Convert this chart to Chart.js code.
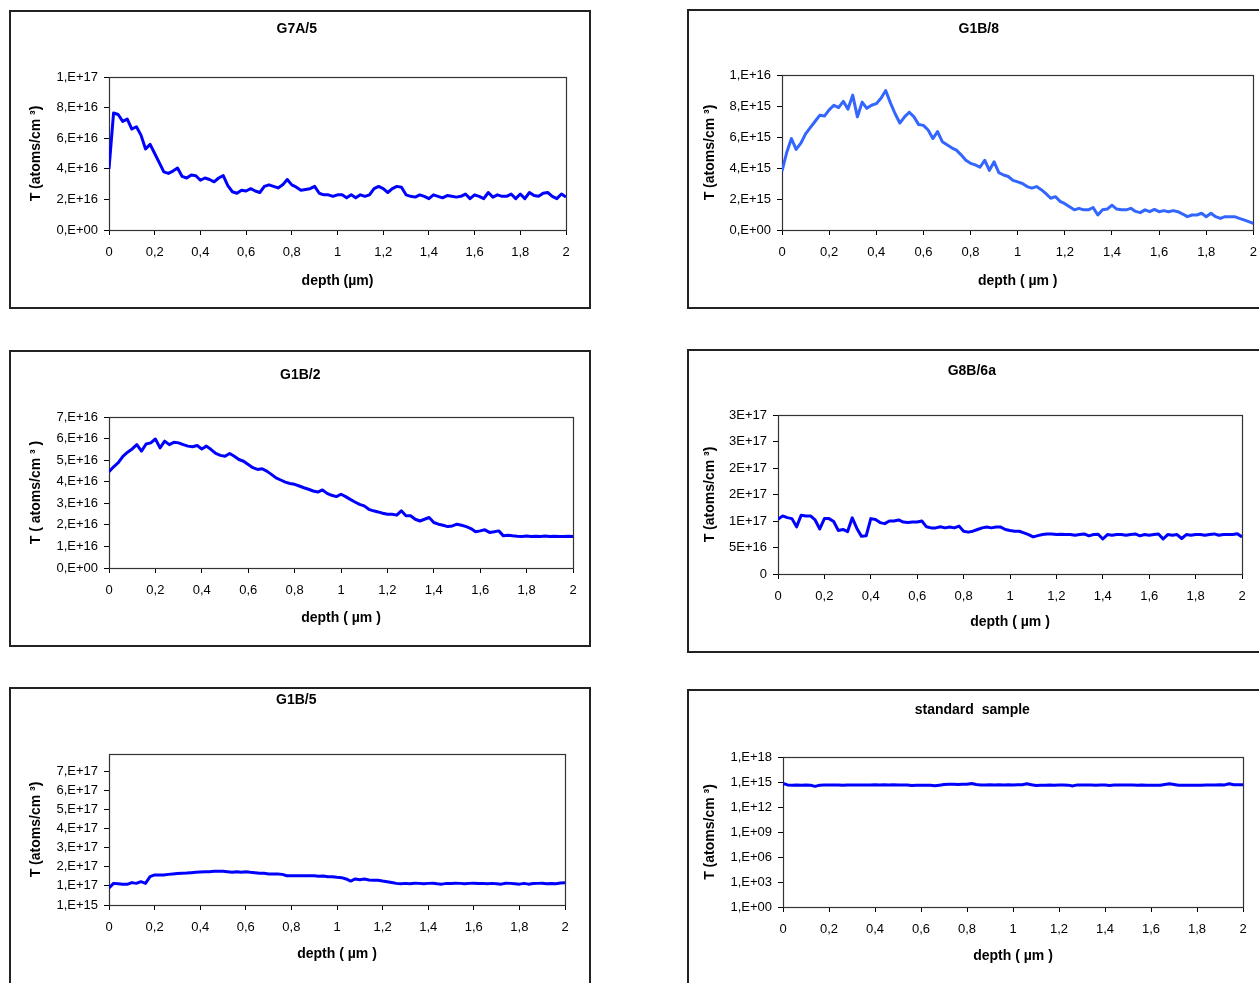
<!DOCTYPE html>
<html><head><meta charset="utf-8">
<script src="https://cdn.jsdelivr.net/npm/chart.js@4.4.1/dist/chart.umd.min.js"></script>
<style>
html,body{margin:0;padding:0;background:#fff;overflow:hidden;width:1259px;height:983px;position:relative;}
.box{position:absolute;border:2px solid #222;box-sizing:border-box;background:#fff;}
.box canvas{position:absolute;left:0;top:0;}
</style></head><body>
<div id="b1" class="box"><canvas></canvas></div>
<div id="b2" class="box"><canvas></canvas></div>
<div id="b3" class="box"><canvas></canvas></div>
<div id="b4" class="box"><canvas></canvas></div>
<div id="b5" class="box"><canvas></canvas></div>
<div id="b6" class="box"><canvas></canvas></div>
<script>
// ---------- data ----------
const DEPTH = [0,0.02,0.04,0.06,0.08,0.10,0.12,0.14,0.16,0.18,
  0.20,0.22,0.24,0.26,0.28,0.30,0.32,0.34,0.36,0.38,
  0.40,0.42,0.44,0.46,0.48,0.50,0.52,0.54,0.56,0.58,
  0.60,0.62,0.64,0.66,0.68,0.70,0.72,0.74,0.76,0.78,
  0.80,0.82,0.84,0.86,0.88,0.90,0.92,0.94,0.96,0.98,
  1.00,1.02,1.04,1.06,1.08,1.10,1.12,1.14,1.16,1.18,
  1.20,1.22,1.24,1.26,1.28,1.30,1.32,1.34,1.36,1.38,
  1.40,1.42,1.44,1.46,1.48,1.50,1.52,1.54,1.56,1.58,
  1.60,1.62,1.64,1.66,1.68,1.70,1.72,1.74,1.76,1.78,
  1.80,1.82,1.84,1.86,1.88,1.90,1.92,1.94,1.96,1.98,
  2.00];
const X_TICKS = [0,0.2,0.4,0.6,0.8,1,1.2,1.4,1.6,1.8,2];
const X_TICK_LABELS = ["0","0,2","0,4","0,6","0,8","1","1,2","1,4","1,6","1,8","2"];

// G7A/5 (units of 1E16 atoms/cm3)
const G7A5_UNIT = 1e16;
const G7A5 = [4.0,7.65,7.55,7.1,7.25,6.6,6.75,6.2,5.3,5.6,
  5.0,4.4,3.8,3.7,3.85,4.05,3.5,3.4,3.6,3.55,
  3.25,3.4,3.3,3.15,3.4,3.55,2.9,2.5,2.4,2.6,
  2.55,2.7,2.55,2.45,2.85,2.95,2.85,2.75,2.95,3.3,
  2.95,2.8,2.6,2.65,2.7,2.85,2.4,2.3,2.3,2.2,
  2.3,2.3,2.1,2.3,2.1,2.3,2.2,2.3,2.7,2.85,
  2.7,2.45,2.7,2.85,2.8,2.3,2.2,2.15,2.3,2.2,
  2.05,2.3,2.2,2.1,2.25,2.2,2.15,2.2,2.35,2.05,
  2.3,2.2,2.05,2.45,2.15,2.3,2.2,2.2,2.35,2.05,
  2.35,2.05,2.45,2.25,2.2,2.4,2.45,2.2,2.05,2.35,
  2.15];
const G7A5_TICKS = [0,2e16,4e16,6e16,8e16,1e17];
const G7A5_TICK_LABELS = ["0,E+00","2,E+16","4,E+16","6,E+16","8,E+16","1,E+17"];

// G1B/8 (units of 1E15)
const G1B8_UNIT = 1e15;
const G1B8 = [3.8,5.0,5.9,5.2,5.6,6.2,6.6,7.0,7.4,7.35,
  7.75,8.05,7.9,8.3,7.8,8.7,7.3,8.25,7.85,8.05,
  8.15,8.5,9.0,8.2,7.5,6.9,7.3,7.6,7.3,6.8,
  6.75,6.45,5.9,6.35,5.7,5.5,5.3,5.15,4.85,4.5,
  4.3,4.2,4.05,4.5,3.85,4.4,3.7,3.55,3.45,3.2,
  3.1,3.0,2.8,2.7,2.8,2.6,2.35,2.05,2.15,1.85,
  1.7,1.5,1.3,1.4,1.3,1.3,1.45,0.97,1.3,1.35,
  1.6,1.35,1.3,1.3,1.4,1.2,1.12,1.3,1.18,1.33,
  1.18,1.25,1.18,1.25,1.18,1.03,0.86,0.97,0.97,1.08,
  0.86,1.08,0.86,0.75,0.86,0.86,0.86,0.75,0.65,0.54,
  0.43];
const G1B8_TICKS = [0,2e15,4e15,6e15,8e15,1e16];
const G1B8_TICK_LABELS = ["0,E+00","2,E+15","4,E+15","6,E+15","8,E+15","1,E+16"];

// G1B/2 (units of 1E16)
const G1B2_UNIT = 1e16;
const G1B2 = [4.46,4.69,4.88,5.18,5.37,5.52,5.72,5.42,5.75,5.8,
  5.98,5.57,5.88,5.72,5.83,5.8,5.72,5.65,5.62,5.68,
  5.52,5.65,5.49,5.31,5.22,5.18,5.31,5.18,5.03,4.95,
  4.8,4.65,4.57,4.6,4.49,4.34,4.18,4.08,3.98,3.92,
  3.88,3.8,3.72,3.65,3.57,3.52,3.62,3.46,3.37,3.31,
  3.42,3.31,3.18,3.06,2.95,2.88,2.72,2.65,2.6,2.54,
  2.49,2.49,2.45,2.65,2.42,2.42,2.26,2.18,2.26,2.34,
  2.11,2.03,1.98,1.92,1.95,2.03,1.98,1.92,1.83,1.68,
  1.72,1.77,1.65,1.68,1.72,1.49,1.52,1.49,1.47,1.46,
  1.48,1.46,1.47,1.46,1.48,1.46,1.47,1.46,1.46,1.47,
  1.46];
const G1B2_TICKS = [0,1e16,2e16,3e16,4e16,5e16,6e16,7e16];
const G1B2_TICK_LABELS = ["0,E+00","1,E+16","2,E+16","3,E+16","4,E+16","5,E+16","6,E+16","7,E+16"];

// G8B/6a (units of 1E16)
const G8B6A_UNIT = 1e16;
const G8B6A = [10.3,10.96,10.64,10.45,8.9,11.1,10.96,10.96,10.2,8.5,
  10.45,10.45,9.9,8.2,8.4,8.0,10.6,8.6,7.1,7.2,
  10.45,10.3,9.7,9.5,10.0,10.0,10.2,9.8,9.7,9.8,
  9.8,10.0,8.9,8.7,8.7,8.9,8.7,8.85,8.7,9.04,
  8.08,7.9,8.08,8.4,8.7,8.85,8.7,8.85,8.85,8.4,
  8.2,8.07,8.07,7.76,7.44,7.0,7.24,7.44,7.56,7.56,
  7.44,7.5,7.44,7.44,7.3,7.44,7.56,7.2,7.44,7.5,
  6.6,7.44,7.3,7.44,7.44,7.3,7.44,7.56,7.2,7.44,
  7.3,7.44,7.56,6.6,7.44,7.3,7.44,6.7,7.44,7.3,
  7.44,7.44,7.3,7.44,7.56,7.3,7.44,7.44,7.44,7.6,
  7.0];
const G8B6A_TICKS = [0,5e16,1e17,1.5e17,2e17,2.5e17,3e17];
const G8B6A_TICK_LABELS = ["0","5E+16","1E+17","2E+17","2E+17","3E+17","3E+17"];

// G1B/5 (units of 1E17)
const G1B5_UNIT = 1e17;
const G1B5 = [0.9,1.14,1.12,1.1,1.09,1.18,1.14,1.23,1.14,1.49,
  1.58,1.58,1.58,1.61,1.63,1.65,1.67,1.68,1.7,1.72,
  1.74,1.75,1.75,1.77,1.77,1.77,1.75,1.72,1.75,1.72,
  1.75,1.72,1.7,1.67,1.67,1.63,1.63,1.63,1.61,1.54,
  1.54,1.54,1.54,1.54,1.54,1.54,1.51,1.53,1.49,1.49,
  1.46,1.44,1.37,1.26,1.37,1.33,1.37,1.32,1.3,1.3,
  1.26,1.23,1.19,1.14,1.12,1.14,1.12,1.15,1.14,1.12,
  1.14,1.15,1.12,1.1,1.14,1.13,1.15,1.14,1.12,1.14,
  1.15,1.13,1.14,1.12,1.14,1.12,1.1,1.15,1.14,1.12,
  1.1,1.14,1.1,1.13,1.14,1.15,1.12,1.13,1.12,1.16,
  1.17];
const G1B5_TICKS = [1e15,1.01e17,2.01e17,3.01e17,4.01e17,5.01e17,6.01e17,7.01e17];
const G1B5_TICK_LABELS = ["1,E+15","1,E+17","2,E+17","3,E+17","4,E+17","5,E+17","6,E+17","7,E+17"];

// standard sample (units of 1E14, log axis)
const STD_UNIT = 1e14;
const STD = [6.5,4.5,4.0,4.5,4.2,4.5,4.0,3.0,4.2,4.5,
  4.5,4.3,4.5,4.2,4.5,4.5,4.3,4.5,4.5,4.3,
  4.6,4.5,4.6,4.5,4.6,4.5,4.5,4.5,3.8,4.2,
  4.2,4.2,4.2,3.6,4.2,5.0,5.2,5.2,5.0,5.4,
  5.5,6.5,5.0,4.5,4.5,4.8,4.5,4.6,4.5,4.8,
  4.5,4.6,4.8,6.0,4.8,3.8,4.0,4.2,4.4,4.2,
  4.3,4.5,4.2,3.4,4.5,4.5,4.4,4.5,4.2,4.5,
  4.3,3.8,4.3,4.4,4.5,4.3,4.5,4.2,4.4,4.0,
  4.0,4.0,4.0,5.0,6.2,5.0,4.0,4.0,4.0,4.0,
  4.2,4.2,4.4,4.5,4.4,4.6,4.5,6.2,4.8,4.6,
  4.8];
const STD_TICKS = [1,1e3,1e6,1e9,1e12,1e15,1e18];
const STD_TICK_LABELS = ["1,E+00","1,E+03","1,E+06","1,E+09","1,E+12","1,E+15","1,E+18"];

// ---------- drawing ----------
Chart.defaults.font.family = '"Liberation Sans", Arial, sans-serif';
Chart.defaults.color = '#000';

const framePlugin = {
  id: 'frame',
  beforeDatasetsDraw(chart) {
    const {ctx, chartArea: a} = chart;
    ctx.save();
    ctx.strokeStyle = '#333';
    ctx.lineWidth = 1.2;
    ctx.strokeRect(Math.round(a.left) + 0.5, Math.round(a.top) + 0.5,
      Math.round(a.right - a.left), Math.round(a.bottom - a.top));
    ctx.restore();
  }
};

function makePanel(p) {
  const box = document.getElementById(p.id);
  const [bl, bt, br, bb] = p.box;
  box.style.left = bl + 'px'; box.style.top = bt + 'px';
  box.style.width = (br - bl) + 'px'; box.style.height = (bb - bt) + 'px';
  const B = 2;
  const ox = bl + B, oy = bt + B, W = br - bl - 2 * B, H = bb - bt - 2 * B;
  const cv = box.querySelector('canvas');
  cv.width = W; cv.height = H; cv.style.width = W + 'px'; cv.style.height = H + 'px';
  const aL = p.area[0] - ox, aT = p.area[1] - oy, aR = p.area[2] - ox, aB = p.area[3] - oy;
  const LH_T = 14 * 1.2, LH_A = 14 * 1.2;
  const tC = p.titleY - oy;
  const tPadTop = tC - LH_T / 2, tPadBot = aT - tC - LH_T / 2;
  const padLeft = (p.yTitleX - ox) - LH_A / 2;
  const yW = aL - padLeft;
  const xBottom = (p.xTitleY - oy) + LH_A / 2;
  const xH = xBottom - aB;
  const padBottom = H - xBottom;
  const padRight = W - aR;

  const points = DEPTH.map((d, i) => ({x: d, y: p.values[i] * p.unit}));

  new Chart(cv, {
    type: 'line',
    data: { datasets: [{ data: points, borderColor: p.color, borderWidth: 3,
      pointRadius: 0, tension: 0, fill: false, borderJoinStyle: 'round' }] },
    options: {
      responsive: false, animation: false, events: [],
      layout: { padding: { left: padLeft, right: padRight, top: 0, bottom: padBottom } },
      plugins: {
        legend: { display: false }, tooltip: { enabled: false },
        title: { display: true, text: p.title, color: '#000',
          font: { size: 14, weight: 'bold' }, padding: { top: tPadTop, bottom: tPadBot } }
      },
      scales: {
        x: {
          type: 'linear', min: 0, max: 2,
          afterBuildTicks: s => { s.ticks = X_TICKS.map(v => ({value: v})); },
          afterFit: s => { s.height = xH; },
          ticks: { autoSkip: false, maxRotation: 0, padding: 10, font: { size: 13 }, color: '#000',
            callback: (v, i) => X_TICK_LABELS[i] },
          grid: { display: true, drawOnChartArea: false, drawTicks: true, tickLength: 5, color: '#000', lineWidth: 1 },
          border: { display: true, color: '#000', width: 1 },
          title: { display: true, text: p.xTitle, color: '#000', padding: 0, font: { size: 14, weight: 'bold' } }
        },
        y: {
          type: p.yType, min: p.yMin, max: p.yMax,
          afterBuildTicks: s => { s.ticks = p.yTicks.map(v => ({value: v})); },
          afterFit: s => { s.width = yW; },
          ticks: { autoSkip: false, padding: 6, font: { size: 13 }, color: '#000',
            callback: (v, i) => p.yTickLabels[i] },
          grid: { display: true, drawOnChartArea: false, drawTicks: true, tickLength: 5, color: '#000', lineWidth: 1 },
          border: { display: true, color: '#000', width: 1 },
          title: { display: true, text: p.yTitle, color: '#000', padding: 0, font: { size: 14, weight: 'bold' } }
        }
      }
    },
    plugins: [framePlugin]
  });
}

makePanel({ id: 'b1', box: [9, 10, 591, 309], area: [109, 77, 566, 230], titleY: 29, xTitleY: 281, yTitleX: 36,
  title: 'G7A/5', xTitle: 'depth (µm)', yTitle: 'T (atoms/cm ³)', values: G7A5, unit: G7A5_UNIT,
  color: '#0000ff', yType: 'linear', yMin: 0, yMax: 1e17, yTicks: G7A5_TICKS, yTickLabels: G7A5_TICK_LABELS });

makePanel({ id: 'b2', box: [687, 9, 1269, 309], area: [782, 75, 1256, 230], titleY: 29, xTitleY: 281, yTitleX: 710,
  title: 'G1B/8', xTitle: 'depth ( µm )', yTitle: 'T (atoms/cm ³)', values: G1B8, unit: G1B8_UNIT,
  color: '#3366ff', yType: 'linear', yMin: 0, yMax: 1e16, yTicks: G1B8_TICKS, yTickLabels: G1B8_TICK_LABELS });

makePanel({ id: 'b3', box: [9, 350, 591, 647], area: [109, 417, 573, 568], titleY: 375, xTitleY: 618, yTitleX: 36,
  title: 'G1B/2', xTitle: 'depth ( µm )', yTitle: 'T ( atoms/cm ³ )', values: G1B2, unit: G1B2_UNIT,
  color: '#0000ff', yType: 'linear', yMin: 0, yMax: 7e16, yTicks: G1B2_TICKS, yTickLabels: G1B2_TICK_LABELS });

makePanel({ id: 'b4', box: [687, 349, 1269, 653], area: [778, 415, 1242, 574], titleY: 371, xTitleY: 622, yTitleX: 710,
  title: 'G8B/6a', xTitle: 'depth ( µm )', yTitle: 'T (atoms/cm ³)', values: G8B6A, unit: G8B6A_UNIT,
  color: '#0000ff', yType: 'linear', yMin: 0, yMax: 3e17, yTicks: G8B6A_TICKS, yTickLabels: G8B6A_TICK_LABELS });

makePanel({ id: 'b5', box: [9, 687, 591, 995], area: [109, 754, 565, 905], titleY: 700, xTitleY: 954, yTitleX: 36,
  title: 'G1B/5', xTitle: 'depth ( µm )', yTitle: 'T (atoms/cm ³)', values: G1B5, unit: G1B5_UNIT,
  color: '#0000ff', yType: 'linear', yMin: 1e15, yMax: 7.9e17, yTicks: G1B5_TICKS, yTickLabels: G1B5_TICK_LABELS });

makePanel({ id: 'b6', box: [687, 689, 1269, 995], area: [783, 757, 1243, 907], titleY: 710, xTitleY: 956, yTitleX: 710,
  title: 'standard  sample', xTitle: 'depth ( µm )', yTitle: 'T (atoms/cm ³)', values: STD, unit: STD_UNIT,
  color: '#0000ff', yType: 'logarithmic', yMin: 1, yMax: 1e18, yTicks: STD_TICKS, yTickLabels: STD_TICK_LABELS });
</script>
</body></html>
